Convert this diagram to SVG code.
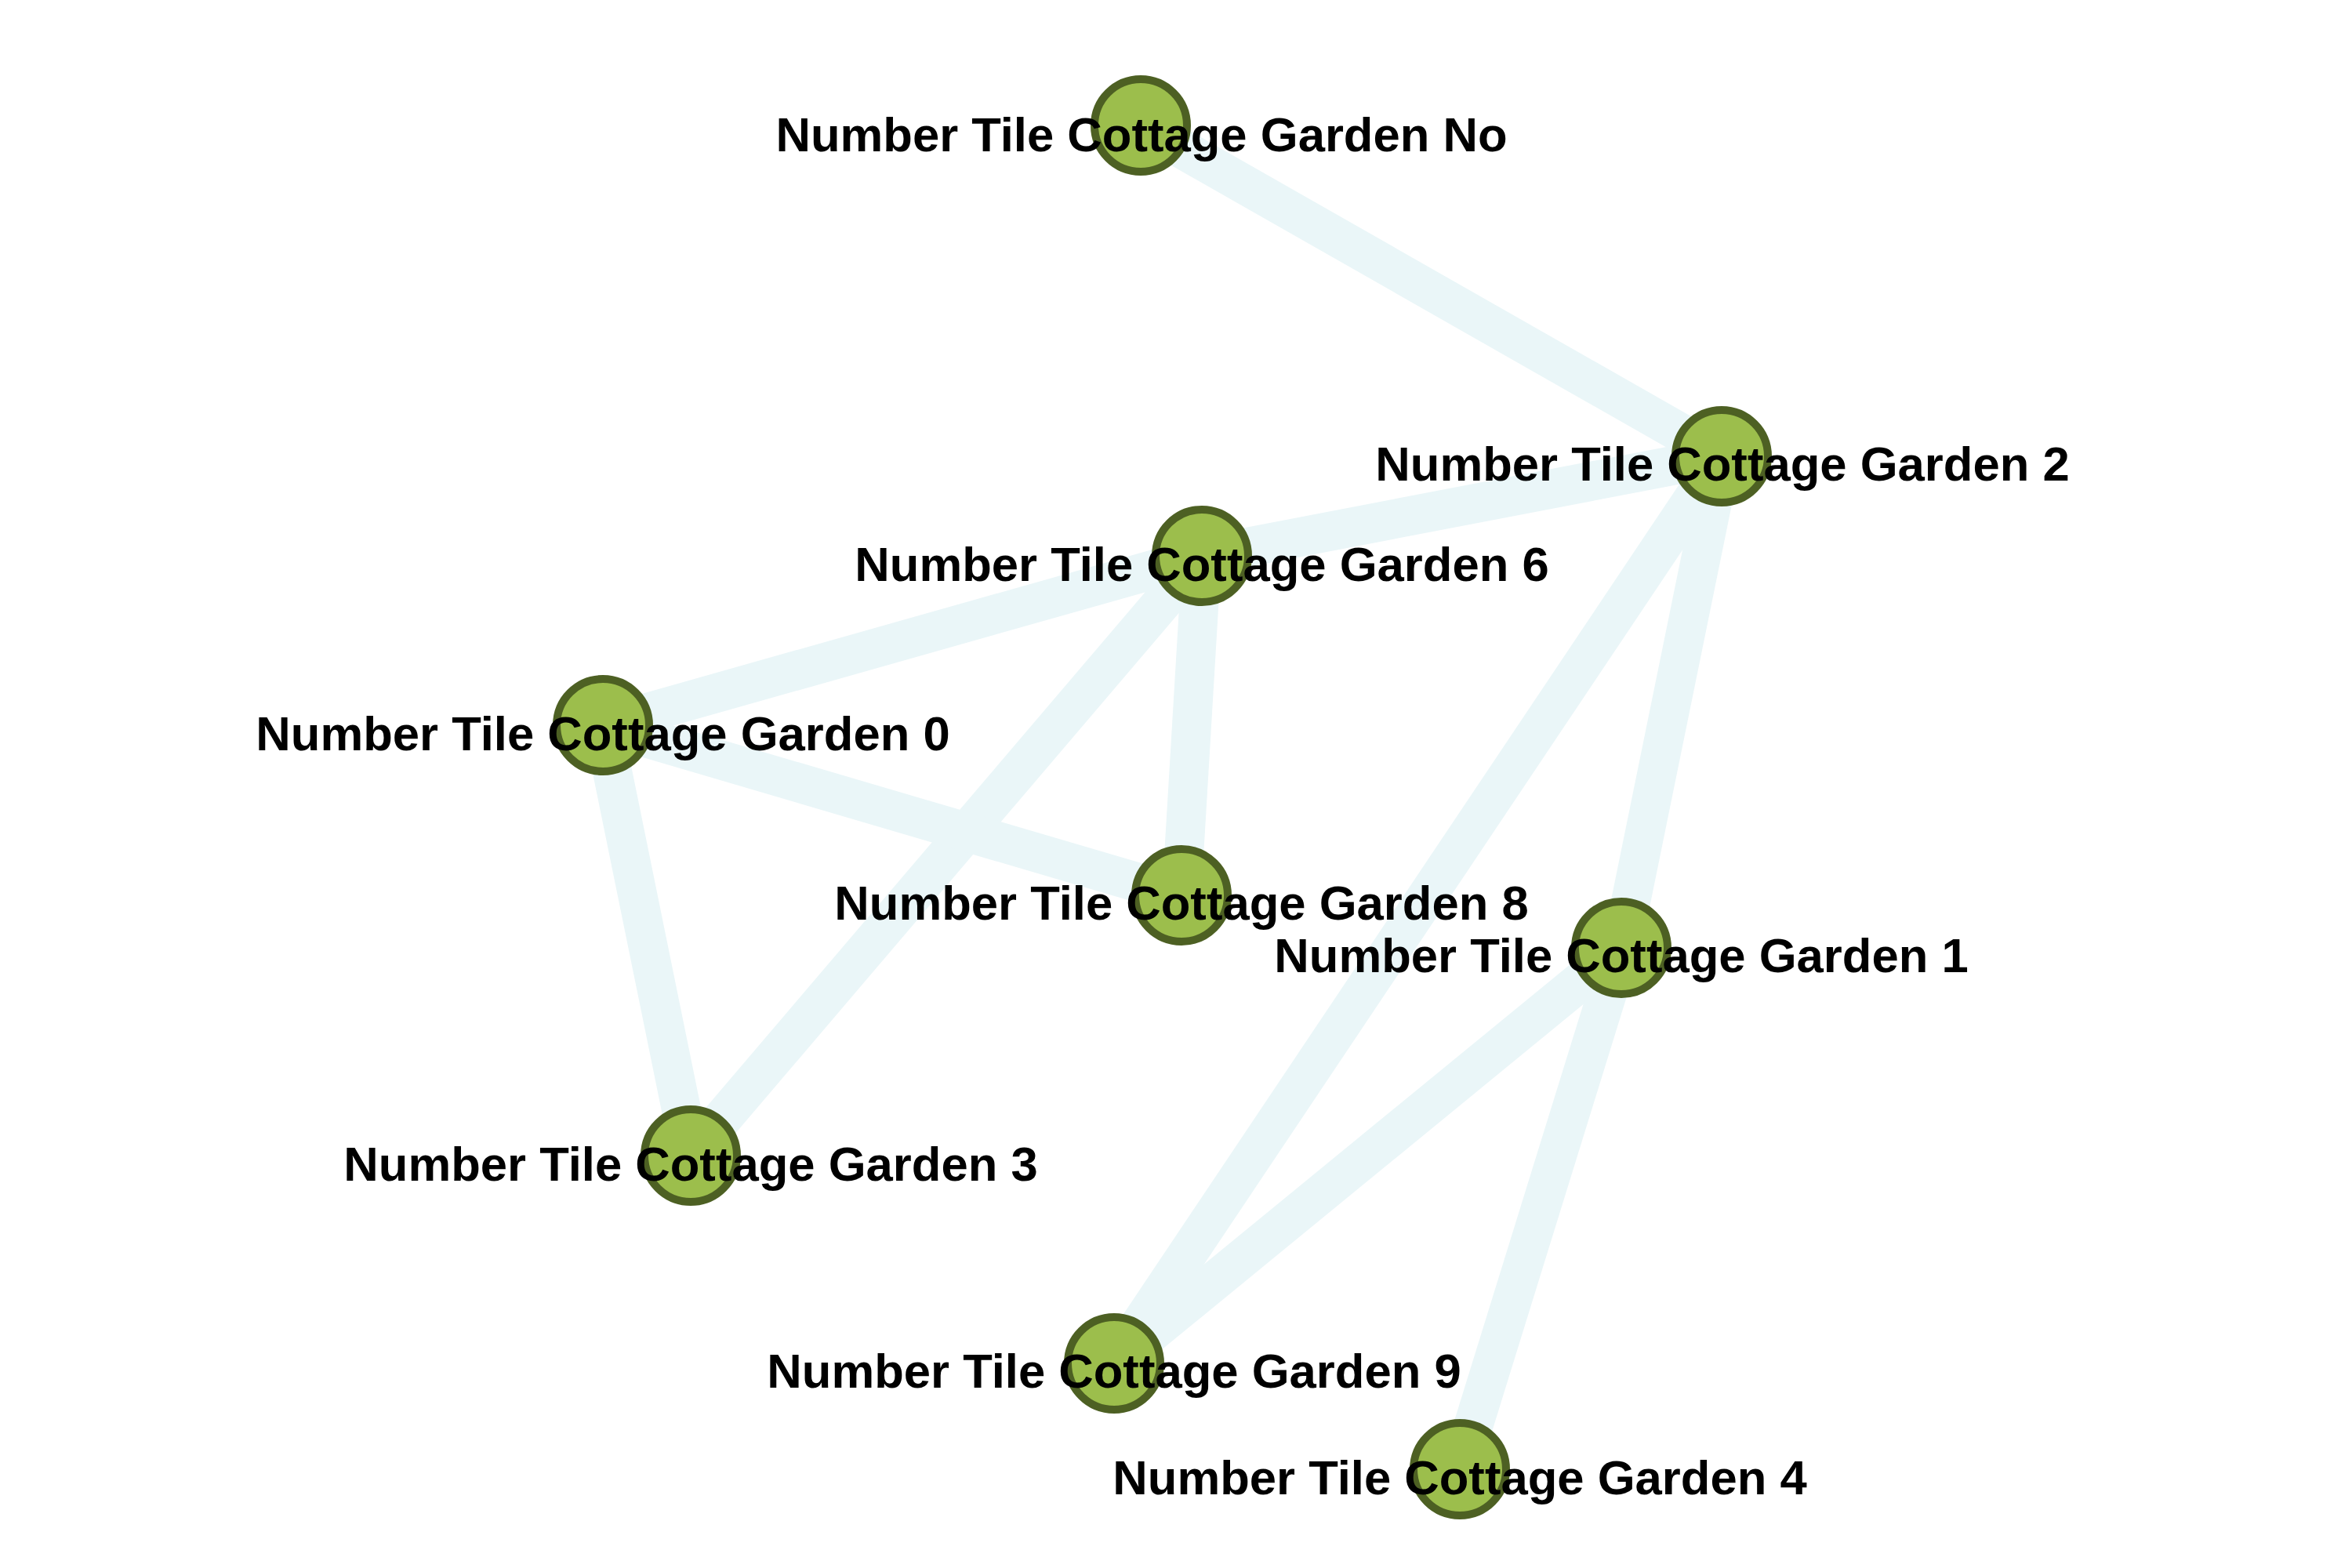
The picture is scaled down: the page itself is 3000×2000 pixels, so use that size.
<svg xmlns="http://www.w3.org/2000/svg" width="3000" height="2000" viewBox="0 0 3000 2000">
<style>
.e{stroke:#eaf6f8;stroke-width:50;fill:none;stroke-linecap:butt}
.n{fill:#9cbe4c;stroke:#4d6023;stroke-width:10}
.t{font-family:"Liberation Sans",Arial,sans-serif;font-weight:bold;font-size:61.6px;fill:#000;text-anchor:middle}
</style>
<rect width="3000" height="2000" fill="#ffffff"/>
<g id="edges">
<line class="e" x1="1455" y1="160" x2="2196" y2="582"/>
<line class="e" x1="2196" y1="582" x2="1533" y2="709"/>
<line class="e" x1="2196" y1="582" x2="1421" y2="1739"/>
<line class="e" x1="2196" y1="582" x2="2068" y2="1209"/>
<line class="e" x1="1533" y1="709" x2="769" y2="925"/>
<line class="e" x1="1533" y1="709" x2="881" y2="1474"/>
<line class="e" x1="1533" y1="709" x2="1507" y2="1142"/>
<line class="e" x1="769" y1="925" x2="1507" y2="1142"/>
<line class="e" x1="769" y1="925" x2="881" y2="1474"/>
<line class="e" x1="2068" y1="1209" x2="1421" y2="1739"/>
<line class="e" x1="2068" y1="1209" x2="1862" y2="1874"/>
</g>
<g id="node-no"><circle class="n" cx="1455" cy="160" r="59"/><text class="t" x="1456" y="193">Number Tile Cottage Garden No</text></g>
<g id="node-2"><circle class="n" cx="2196" cy="582" r="59"/><text class="t" x="2197" y="613">Number Tile Cottage Garden 2</text></g>
<g id="node-6"><circle class="n" cx="1533" cy="709" r="59"/><text class="t" x="1533" y="741">Number Tile Cottage Garden 6</text></g>
<g id="node-0"><circle class="n" cx="769" cy="925" r="59"/><text class="t" x="769" y="957">Number Tile Cottage Garden 0</text></g>
<g id="node-8"><circle class="n" cx="1507" cy="1142" r="59"/><text class="t" x="1507" y="1173">Number Tile Cottage Garden 8</text></g>
<g id="node-1"><circle class="n" cx="2068" cy="1209" r="59"/><text class="t" x="2068" y="1240">Number Tile Cottage Garden 1</text></g>
<g id="node-3"><circle class="n" cx="881" cy="1474" r="59"/><text class="t" x="881" y="1506">Number Tile Cottage Garden 3</text></g>
<g id="node-9"><circle class="n" cx="1421" cy="1739" r="59"/><text class="t" x="1421" y="1770">Number Tile Cottage Garden 9</text></g>
<g id="node-4"><circle class="n" cx="1862" cy="1874" r="59"/><text class="t" x="1862" y="1906">Number Tile Cottage Garden 4</text></g>
</svg>
